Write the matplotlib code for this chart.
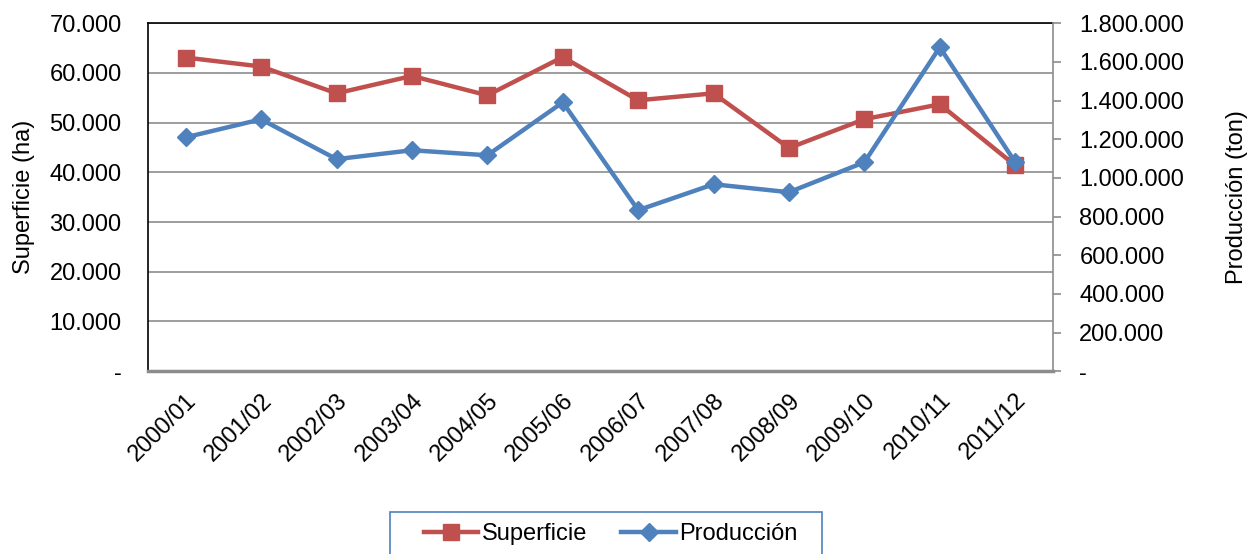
import matplotlib
matplotlib.use("Agg")
import matplotlib.pyplot as plt
from matplotlib.patches import Rectangle
from matplotlib.ticker import FuncFormatter, MultipleLocator

plt.rcParams['font.family'] = ['Liberation Sans', 'DejaVu Sans']

campanas = ["2000/01", "2001/02", "2002/03", "2003/04", "2004/05", "2005/06",
            "2006/07", "2007/08", "2008/09", "2009/10", "2010/11", "2011/12"]
superficie = [63100, 61300, 55900, 59400, 55500, 63200,
              54500, 55900, 44900, 50700, 53700, 41400]
produccion = [1210000, 1303000, 1097000, 1143000, 1117000, 1391000,
              833000, 967000, 926000, 1081000, 1676000, 1081000]

rojo = "#C0504D"
azul = "#4F81BD"
fs = 17


def miles(v, pos):
    if v == 0:
        return "-"
    return f"{int(round(v)):,}".replace(",", ".")


fig = plt.figure(figsize=(12.49, 5.54), dpi=100)
ax = fig.add_axes([0.1185, 0.330, 0.7245, 0.628])
ax2 = ax.twinx()

x = list(range(len(campanas)))
l1, = ax.plot(x, superficie, color=rojo, lw=3.2, marker="s", ms=11,
              label="Superficie")
l2, = ax2.plot(x, produccion, color=azul, lw=3.2, marker="D", ms=9,
               label="Producción")

ax.set_xlim(-0.5, len(campanas) - 0.5)
ax.set_ylim(0, 70000)
ax2.set_ylim(0, 1800000)
ax.yaxis.set_major_locator(MultipleLocator(10000))
ax2.yaxis.set_major_locator(MultipleLocator(200000))
ax.yaxis.set_major_formatter(FuncFormatter(miles))
ax2.yaxis.set_major_formatter(FuncFormatter(miles))

ax.grid(axis="y", color="#8c8c8c", lw=1.2)
ax.set_axisbelow(True)

ax.set_xticks(x)
ax.set_xticklabels(campanas, rotation=45, ha="right", rotation_mode="anchor",
                   fontsize=fs)
ax.tick_params(axis="x", length=0, pad=13)
ax.tick_params(axis="y", length=0, labelsize=fs, pad=19)
ax2.tick_params(axis="y", length=6, width=1.2, color="#8c8c8c",
                labelsize=fs, pad=13)

for s in ["left", "top"]:
    ax.spines[s].set_color("black")
    ax.spines[s].set_linewidth(1.2)
ax.spines["bottom"].set_color("#8c8c8c")
ax.spines["bottom"].set_linewidth(2.5)
ax.spines["right"].set_visible(False)
for s in ["left", "top", "bottom"]:
    ax2.spines[s].set_visible(False)
ax2.spines["right"].set_color("#8c8c8c")
ax2.spines["right"].set_linewidth(1.2)

ax.set_ylabel("Superficie (ha)", fontsize=fs, labelpad=10)
ax2.set_ylabel("Producción (ton)", fontsize=fs, labelpad=30)

# legend box runs off the bottom of the figure, like the original
fig.patches.append(Rectangle((390 / 1249, -0.02), 432 / 1249, 0.02 + 42 / 554,
                             transform=fig.transFigure, fill=False,
                             edgecolor=azul, lw=1.2))
fig.legend([l1, l2], ["Superficie", "Producción"], loc="center left",
           bbox_to_anchor=(424 / 1249, 1 - 534 / 554), ncol=2, fontsize=fs,
           frameon=False, handlelength=2.3, columnspacing=1.45,
           borderpad=0, borderaxespad=0, handletextpad=0.15)

fig.savefig("out.png", dpi=100)
